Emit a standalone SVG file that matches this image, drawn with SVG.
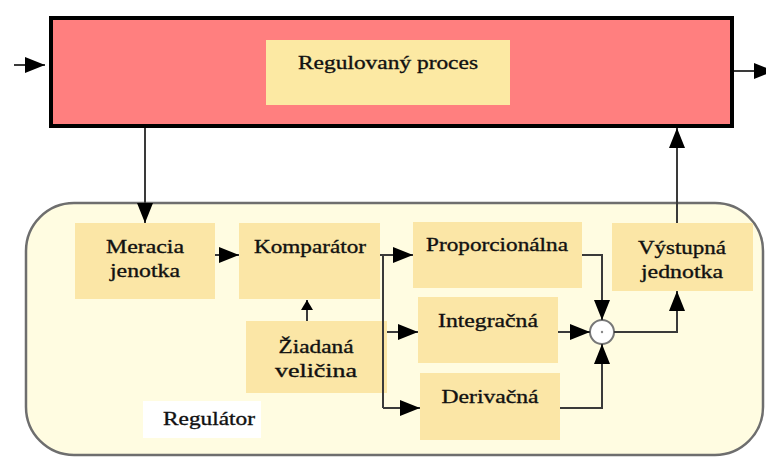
<svg xmlns="http://www.w3.org/2000/svg" width="766" height="457" viewBox="0 0 766 457">
<style>
.t{font-family:"Liberation Serif","Times New Roman",serif;font-size:19px;fill:#111;stroke:#111;stroke-width:0.35;text-anchor:middle}
.node{fill:#FBE6A6}
.c{fill:none;stroke:#3a3a3a;stroke-width:2}
</style>
<defs>
<marker id="ah" viewBox="0 0 20 16" refX="20" refY="8" markerUnits="userSpaceOnUse" markerWidth="20" markerHeight="16" orient="auto">
<path d="M0,0 L20,8 L0,16 z" fill="#000"/>
</marker>
<marker id="ahs" viewBox="0 0 10 12" refX="10" refY="6" markerUnits="userSpaceOnUse" markerWidth="10" markerHeight="12" orient="auto">
<path d="M0,0 L10,6 L0,12 z" fill="#000"/>
</marker>
</defs>
<rect width="766" height="457" fill="#fff"/>
<g id="proces">
<rect x="51" y="18" width="681" height="108" fill="#FF7F7F" stroke="#000" stroke-width="4"/>
<rect x="266" y="40" width="244" height="65" fill="#FCE9A3"/>
<text class="t" x="388" y="69" textLength="180" lengthAdjust="spacingAndGlyphs">Regulovaný proces</text>
</g>
<g id="regulator">
<rect x="26" y="203" width="737" height="252" rx="48" ry="48" fill="#FFFCE1" stroke="#6e6e6e" stroke-width="2.5"/>
<rect x="143" y="401" width="118" height="37" fill="#fff"/>
<text class="t" x="209" y="425" textLength="92" lengthAdjust="spacingAndGlyphs">Regulátor</text>
</g>
<g id="meracia">
<rect class="node" x="75" y="223" width="140" height="76"/>
<text class="t" x="145" y="253" textLength="78" lengthAdjust="spacingAndGlyphs">Meracia</text>
<text class="t" x="145" y="277" textLength="70" lengthAdjust="spacingAndGlyphs">jenotka</text>
</g>
<g id="komparator">
<rect class="node" x="239" y="223" width="141" height="76"/>
<text class="t" x="310" y="253" textLength="112" lengthAdjust="spacingAndGlyphs">Komparátor</text>
</g>
<g id="ziadana">
<rect class="node" x="246" y="321" width="141" height="72"/>
<text class="t" x="316" y="353" textLength="75" lengthAdjust="spacingAndGlyphs">Žiadaná</text>
<text class="t" x="316" y="377" textLength="82" lengthAdjust="spacingAndGlyphs">veličina</text>
</g>
<g id="proporcionalna">
<rect class="node" x="413" y="222" width="169" height="66"/>
<text class="t" x="497" y="251" textLength="142" lengthAdjust="spacingAndGlyphs">Proporcionálna</text>
</g>
<g id="integracna">
<rect class="node" x="418" y="297" width="140" height="66"/>
<text class="t" x="488" y="327" textLength="100" lengthAdjust="spacingAndGlyphs">Integračná</text>
</g>
<g id="derivacna">
<rect class="node" x="420" y="373" width="140" height="67"/>
<text class="t" x="490" y="403" textLength="97" lengthAdjust="spacingAndGlyphs">Derivačná</text>
</g>
<g id="vystupna">
<rect class="node" x="612" y="223" width="141" height="68"/>
<text class="t" x="682" y="254" textLength="88" lengthAdjust="spacingAndGlyphs">Výstupná</text>
<text class="t" x="682" y="278" textLength="82" lengthAdjust="spacingAndGlyphs">jednotka</text>
</g>
<g id="sum">
<circle cx="602" cy="332" r="12" fill="#fff" stroke="#777" stroke-width="2"/>
<circle cx="602" cy="332" r="1.2" fill="#888"/>
</g>
<g id="connectors">
<path class="c" d="M14,65 L45,65" marker-end="url(#ah)"/>
<path class="c" d="M734,71 L774,71" marker-end="url(#ah)"/>
<path class="c" d="M145,128 L145,223" marker-end="url(#ah)"/>
<path class="c" d="M215,255 L239,255" marker-end="url(#ah)"/>
<path class="c" d="M307,321 L307,300" marker-end="url(#ahs)"/>
<path class="c" d="M380,255 L383,255 L383,408"/>
<path class="c" d="M383,255 L413,255" marker-end="url(#ah)"/>
<path class="c" d="M387,332 L418,332" marker-end="url(#ah)"/>
<path class="c" d="M383,408 L420,408" marker-end="url(#ah)"/>
<path class="c" d="M582,255 L602,255 L602,320" marker-end="url(#ah)"/>
<path class="c" d="M558,332 L590,332" marker-end="url(#ah)"/>
<path class="c" d="M560,408 L602,408 L602,344" marker-end="url(#ah)"/>
<path class="c" d="M614,332 L677,332 L677,291" marker-end="url(#ah)"/>
<path class="c" d="M677,223 L677,128" marker-end="url(#ah)"/>
</g>
</svg>
